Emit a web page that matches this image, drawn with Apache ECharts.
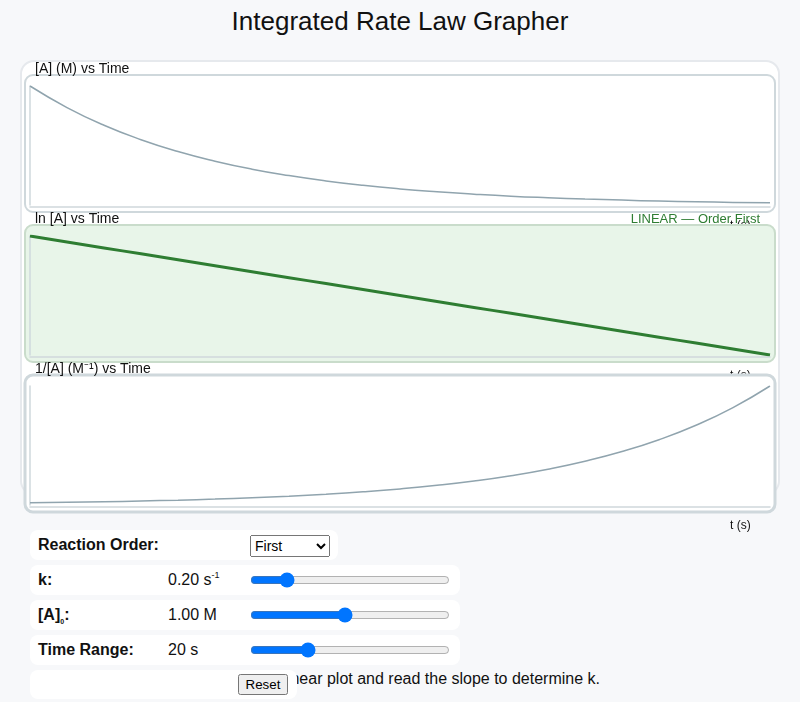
<!DOCTYPE html>
<html><head><meta charset="utf-8">
<title>Integrated Rate Law Grapher</title>
<script src="https://cdn.jsdelivr.net/npm/echarts@6/dist/echarts.min.js"></script>
<style>
html,body{margin:0;padding:0;background:#f7f8fa;font-family:"Liberation Sans",Arial,Helvetica,sans-serif;color:#111;}
body{width:800px;height:702px;position:relative;overflow:hidden;}
h1{position:absolute;left:0;top:0;width:800px;margin:0;text-align:center;font-size:26px;font-weight:normal;line-height:42px;}
#frame{position:absolute;left:20px;top:60px;width:760px;height:435px;box-sizing:border-box;border:2px solid #e6e9ed;border-radius:14px;background:#fff;}
.chart{position:absolute;left:20px;width:760px;height:180px;}
.row{position:absolute;left:30px;height:30px;background:#fff;border-radius:8px;z-index:2;}
.lbl{position:absolute;left:8px;top:5px;font-weight:bold;font-size:16px;line-height:20px;white-space:nowrap;}
.val{position:absolute;left:138px;top:5px;font-size:16px;line-height:20px;white-space:nowrap;}
.row input[type=range]{position:absolute;left:220px;top:7px;width:200px;height:16px;margin:0;}
sup{font-size:9px;line-height:0;vertical-align:baseline;position:relative;top:-7px;}
sub{font-size:7px;line-height:0;vertical-align:baseline;position:relative;top:4px;}
#tip{position:absolute;left:0;top:669px;width:600px;text-align:right;font-size:16px;line-height:20px;white-space:nowrap;z-index:1;}
</style>
</head>
<body>
<h1>Integrated Rate Law Grapher</h1>
<div id="frame"></div>
<div id="c0" class="chart" style="top:60px"></div>
<div id="c1" class="chart" style="top:210px"></div>
<div id="c2" class="chart" style="top:360px"></div>

<div class="row" style="top:530px;width:308px;">
  <span class="lbl">Reaction Order:</span>
  <select style="position:absolute;left:220px;top:5px;width:80px;height:22px;font-size:14px;">
    <option>Zero</option><option selected>First</option><option>Second</option>
  </select>
</div>
<div class="row" style="top:565px;width:430px;">
  <span class="lbl">k:</span><span class="val">0.20 s<sup>-1</sup></span>
  <input type="range" min="0.01" max="1.2" step="0.01" value="0.2">
</div>
<div class="row" style="top:600px;width:430px;">
  <span class="lbl">[A]<sub>0</sub>:</span><span class="val">1.00 M</span>
  <input type="range" min="0.1" max="2" step="0.01" value="1">
</div>
<div class="row" style="top:635px;width:430px;">
  <span class="lbl">Time Range:</span><span class="val">20 s</span>
  <input type="range" min="5" max="60" step="1" value="20">
</div>
<div class="row" style="top:670px;width:267px;height:29px;">
  <button style="position:absolute;left:208px;top:4px;width:50px;height:21px;padding:0;">Reset</button>
</div>
<div id="tip">Find the order that gives a linear plot and read the slope to determine k.</div>

<script>
// ---- data (k = 0.20 s^-1, [A]0 = 1.00 M, 0–20 s) ----
const timeValues = [0,1,2,3,4,5,6,7,8,9,10,11,12,13,14,15,16,17,18,19,20];
const concA = [1.000,0.819,0.670,0.549,0.449,0.368,0.301,0.247,0.202,0.165,0.135,0.111,0.091,0.074,0.061,0.050,0.041,0.033,0.027,0.022,0.018];
const lnConcA = [0.0,-0.2,-0.4,-0.6,-0.8,-1.0,-1.2,-1.4,-1.6,-1.8,-2.0,-2.2,-2.4,-2.6,-2.8,-3.0,-3.2,-3.4,-3.6,-3.8,-4.0];
const invConcA = [1.00,1.22,1.49,1.82,2.23,2.72,3.32,4.06,4.95,6.05,7.39,9.03,11.02,13.46,16.44,20.09,24.53,29.96,36.60,44.70,54.60];
const panelTitles = ['[A] (M) vs Time','ln [A] vs Time','1/[A] (M\u207B\u00B9) vs Time'];
const linearNote = 'LINEAR \u2014 Order First';
const timeAxisName = 't (s)';

const FONT = '"Liberation Sans", Arial, Helvetica, sans-serif';

function buildOption(title, values, cfg){
  const titles = [{text:title,left:15,top:2,padding:0,
    textStyle:{fontSize:14,fontWeight:'normal',color:'#111',fontFamily:FONT}}];
  if(cfg.note){
    titles.push({text:cfg.note,right:20,top:3,padding:0,
      textStyle:{fontSize:13,fontWeight:'normal',color:'#2e7d32',fontFamily:FONT}});
  }
  return {
    animation:false,
    title:titles,
    graphic:[{type:'rect',silent:true,z:-1,
      shape:{x:5,y:15,width:750,height:137,r:8},
      style:{fill:cfg.fill,stroke:cfg.stroke,lineWidth:cfg.borderWidth}}],
    grid:{left:10,right:10,top:26,height:119,outerBoundsMode:'none'},
    xAxis:{type:'value',min:0,max:20,offset:2,
      axisLine:{onZero:false,lineStyle:{color:'#cfd8dc',width:1.5}},
      axisTick:{show:false},axisLabel:{show:false},splitLine:{show:false},
      name:timeAxisName,nameLocation:'end',nameGap:-40,
      nameTextStyle:{fontSize:12,color:'#111',fontFamily:FONT,verticalAlign:'top',padding:[13,0,0,0]}},
    yAxis:{type:'value',min:cfg.min,max:cfg.max,
      axisLine:{show:true,onZero:false,lineStyle:{color:'#cfd8dc',width:1.5}},
      axisTick:{show:false},axisLabel:{show:false},splitLine:{show:false}},
    series:[{type:'line',data:timeValues.map((t,i)=>[t,values[i]]),
      showSymbol:false,smooth:true,
      lineStyle:{color:cfg.color,width:cfg.width}}]
  };
}

const configs = [
  {values:concA,min:0,max:'dataMax',fill:'#ffffff',stroke:'#cfd8dc',borderWidth:2,color:'#90a4ae',width:1.5},
  {values:lnConcA,min:'dataMin',max:'dataMax',fill:'#e8f5e9',stroke:'#c9dccb',borderWidth:2,color:'#2e7d32',width:3,note:linearNote},
  {values:invConcA,min:0,max:'dataMax',fill:'#ffffff',stroke:'#cfd8dc',borderWidth:3,color:'#90a4ae',width:1.5}
];
configs.forEach((cfg,i)=>{
  const chart = echarts.init(document.getElementById('c'+i),null,{renderer:'canvas'});
  chart.setOption(buildOption(panelTitles[i],cfg.values,cfg));
});
</script>
</body></html>
